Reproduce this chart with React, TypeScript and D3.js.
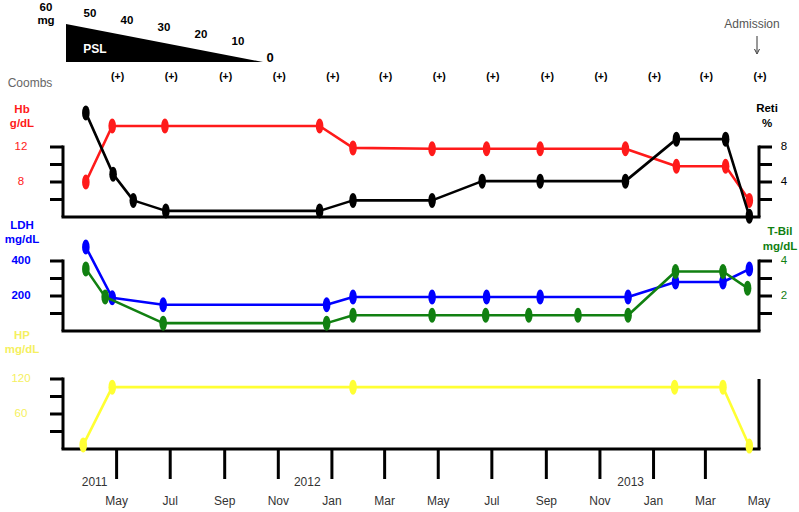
import React from 'react';
import * as d3 from 'd3';

// ---- data ----
const monthLabels = ['May', 'Jul', 'Sep', 'Nov', 'Jan', 'Mar', 'May', 'Jul', 'Sep', 'Nov', 'Jan', 'Mar', 'May'];
const monthDates = ['2011-05-01', '2011-07-01', '2011-09-01', '2011-11-01', '2012-01-01', '2012-03-01', '2012-05-01', '2012-07-01', '2012-09-01', '2012-11-01', '2013-01-01', '2013-03-01', '2013-05-01'];
const yearLabels = ['2011', '2012', '2013'];
const yearDates = ['2011-04-06', '2011-12-04', '2012-12-06'];

const coombsLabel = '(+)';

const hbDates = ['2011-03-27', '2011-04-26', '2011-06-25', '2011-12-18', '2012-01-25', '2012-04-24', '2012-06-25', '2012-08-25', '2012-11-30', '2013-01-27', '2013-03-24', '2013-04-20'];
const hbValues = [8.0, 14.4, 14.4, 14.4, 11.9, 11.8, 11.8, 11.8, 11.8, 9.8, 9.8, 5.9];

const retiDates = ['2011-03-27', '2011-04-27', '2011-05-20', '2011-06-26', '2011-12-18', '2012-01-25', '2012-04-24', '2012-06-20', '2012-08-25', '2012-11-30', '2013-01-27', '2013-03-24', '2013-04-20'];
const retiValues = [11.9, 4.9, 1.9, 0.7, 0.7, 1.9, 1.9, 4.1, 4.1, 4.1, 8.9, 8.9, 0.1];

const ldhDates = ['2011-03-27', '2011-04-26', '2011-06-23', '2011-12-26', '2012-01-25', '2012-04-24', '2012-06-25', '2012-08-25', '2012-12-03', '2013-01-26', '2013-03-21', '2013-04-20'];
const ldhValues = [480, 190, 150, 150, 194, 194, 194, 194, 194, 280, 280, 354];

const tbilDates = ['2011-03-27', '2011-04-18', '2011-06-23', '2011-12-26', '2012-01-25', '2012-04-24', '2012-06-24', '2012-08-12', '2012-10-07', '2012-12-03', '2013-01-26', '2013-03-21', '2013-04-18'];
const tbilValues = [3.55, 1.95, 0.45, 0.45, 0.9, 0.9, 0.9, 0.9, 0.9, 0.9, 3.4, 3.4, 2.45];

const hpDates = ['2011-03-24', '2011-04-26', '2012-01-25', '2013-01-25', '2013-03-21', '2013-04-20'];
const hpValues = [7, 106, 106, 106, 106, 5];

const hbTicks = [12, 10, 8, 6];
const hbTickLabels = [12, 8];
const retiTicks = [8, 6, 4, 2];
const retiTickLabels = [8, 4];
const ldhTicks = [400, 300, 200, 100];
const ldhTickLabels = [400, 200];
const tbilTicks = [4, 3, 2, 1];
const tbilTickLabels = [4, 2];
const hpTicks = [120, 90, 60, 30];
const hpTickLabels = [120, 60];

const pslDoses = [50, 40, 30, 20, 10];

// ---- layout ----
const W = 799, H = 512;
const X0 = 63, X1 = 759;
const parse = d3.timeParse('%Y-%m-%d');
const x = d3.scaleTime().domain([parse('2011-03-01')!, parse('2013-05-01')!]).range([X0, X1]);

const hbY = d3.scaleLinear().domain([4, 12]).range([217, 147]);
const retiY = d3.scaleLinear().domain([0, 8]).range([217, 147]);
const ldhY = d3.scaleLinear().domain([0, 400]).range([331, 261]);
const tbilY = d3.scaleLinear().domain([0, 4]).range([331, 261]);
const hpY = d3.scaleLinear().domain([0, 120]).range([449, 379]);

const RED = '#ff1a1a';
const BLUE = '#0000ff';
const GREEN = '#118011';
const YELLOW = '#ffff33';
const YELLOW_TXT = '#f5f060';
const FONT = 'Liberation Sans, Arial, sans-serif';

function Series({ dates, values, y, color }: { dates: string[]; values: number[]; y: d3.ScaleLinear<number, number>; color: string }) {
  const pts = dates.map((d, i) => [x(parse(d)!), y(values[i])] as [number, number]);
  const line = d3.line();
  return (
    <g>
      <path d={line(pts)!} fill="none" stroke={color} strokeWidth={2.6} strokeLinejoin="round" />
      {pts.map((p, i) => (
        <ellipse key={i} cx={p[0]} cy={p[1]} rx={3.8} ry={7.5} fill={color} />
      ))}
    </g>
  );
}

function LeftAxis({ y, ticks, labels, color, base, bold }: { y: d3.ScaleLinear<number, number>; ticks: number[]; labels: number[]; color: string; base: number; bold?: boolean }) {
  const top = y(ticks[0]);
  return (
    <g>
      <line x1={X0} x2={X0} y1={top - 1.5} y2={base} stroke="#000" strokeWidth={3} />
      {ticks.map((t) => (
        <line key={t} x1={X0 - 13} x2={X0} y1={y(t)} y2={y(t)} stroke="#000" strokeWidth={3} />
      ))}
      {labels.map((t) => (
        <text key={t} x={21} y={y(t)} fill={color} fontSize={11.5} fontWeight={bold ? 'bold' : 'normal'} fontFamily={FONT} textAnchor="middle" dominantBaseline="middle">{t}</text>
      ))}
    </g>
  );
}

function RightAxis({ y, ticks, labels, color, base }: { y: d3.ScaleLinear<number, number>; ticks: number[]; labels: number[]; color: string; base: number }) {
  const top = y(ticks[0]);
  return (
    <g>
      <line x1={X1} x2={X1} y1={top - 1.5} y2={base} stroke="#000" strokeWidth={3} />
      {ticks.map((t) => (
        <line key={t} x1={X1} x2={X1 + 13} y1={y(t)} y2={y(t)} stroke="#000" strokeWidth={3} />
      ))}
      {labels.map((t) => (
        <text key={t} x={784} y={y(t)} fill={color} fontSize={11.5} fontFamily={FONT} textAnchor="middle" dominantBaseline="middle">{t}</text>
      ))}
    </g>
  );
}

export default function App() {
  const pslX = d3.scaleLinear().domain([60, 0]).range([66, 263]);
  const pslTopY = 24, pslBaseY = 62;
  const pslH = d3.scaleLinear().domain([0, 60]).range([pslBaseY, pslTopY]);
  const pslLabelX = d3.scaleLinear().domain([50, 10]).range([90, 238]);
  const pslLabelY = d3.scaleLinear().domain([50, 10]).range([14, 42]);
  const tri = `M${pslX(60)},${pslH(60)} L${pslX(0)},${pslH(0)} L${pslX(60)},${pslBaseY} Z`;

  return (
    <svg width={W} height={H} style={{ position: 'absolute', left: 0, top: 0, background: '#fff' }} fontFamily={FONT}>
      {/* PSL wedge */}
      <path d={tri} fill="#000" />
      <text x={95} y={50} fill="#fff" fontSize={12} fontWeight="bold" textAnchor="middle" dominantBaseline="middle">PSL</text>
      <text x={46} y={8} fontSize={11.5} fontWeight="bold" textAnchor="middle" dominantBaseline="middle">60</text>
      <text x={46} y={21} fontSize={11.5} fontWeight="bold" textAnchor="middle" dominantBaseline="middle">mg</text>
      {pslDoses.map((d) => (
        <text key={d} x={pslLabelX(d)} y={pslLabelY(d)} fontSize={11.5} fontWeight="bold" textAnchor="middle" dominantBaseline="middle">{d}</text>
      ))}
      <text x={270} y={59} fontSize={13} fontWeight="bold" textAnchor="middle" dominantBaseline="middle">0</text>

      {/* Admission */}
      <text x={752} y={25} fontSize={12} fill="#555" textAnchor="middle" dominantBaseline="middle">Admission</text>
      <line x1={757} x2={757} y1={36} y2={52} stroke="#333" strokeWidth={1} />
      <path d="M754.5,49 L757,54 L759.5,49" fill="none" stroke="#333" strokeWidth={1} />

      {/* Coombs */}
      <text x={30} y={84} fontSize={12} fill="#666" textAnchor="middle" dominantBaseline="middle">Coombs</text>
      {monthDates.map((d, i) => (
        <text key={i} x={x(parse(d)!) + 1} y={77} fontSize={10.5} fontWeight="bold" textAnchor="middle" dominantBaseline="middle">{coombsLabel}</text>
      ))}

      {/* Panel 1: Hb / Reti */}
      <text x={22} y={110} fill={RED} fontSize={11.5} fontWeight="bold" textAnchor="middle" dominantBaseline="middle">Hb</text>
      <text x={22} y={124} fill={RED} fontSize={11.5} fontWeight="bold" textAnchor="middle" dominantBaseline="middle">g/dL</text>
      <text x={767} y={109} fontSize={11.5} fontWeight="bold" textAnchor="middle" dominantBaseline="middle">Reti</text>
      <text x={767} y={124} fontSize={11.5} fontWeight="bold" textAnchor="middle" dominantBaseline="middle">%</text>
      <LeftAxis y={hbY} ticks={hbTicks} labels={hbTickLabels} color={RED} base={217} />
      <RightAxis y={retiY} ticks={retiTicks} labels={retiTickLabels} color="#000" base={217} />
      <line x1={X0 - 1.5} x2={X1 + 1.5} y1={217} y2={217} stroke="#000" strokeWidth={3} />
      <Series dates={hbDates} values={hbValues} y={hbY} color={RED} />
      <Series dates={retiDates} values={retiValues} y={retiY} color="#000" />

      {/* Panel 2: LDH / T-Bil */}
      <text x={22} y={226} fill={BLUE} fontSize={11.5} fontWeight="bold" textAnchor="middle" dominantBaseline="middle">LDH</text>
      <text x={22} y={240} fill={BLUE} fontSize={11.5} fontWeight="bold" textAnchor="middle" dominantBaseline="middle">mg/dL</text>
      <text x={780} y={232} fill={GREEN} fontSize={11.5} fontWeight="bold" textAnchor="middle" dominantBaseline="middle">T-Bil</text>
      <text x={780} y={247} fill={GREEN} fontSize={11.5} fontWeight="bold" textAnchor="middle" dominantBaseline="middle">mg/dL</text>
      <LeftAxis y={ldhY} ticks={ldhTicks} labels={ldhTickLabels} color={BLUE} base={331} bold />
      <RightAxis y={tbilY} ticks={tbilTicks} labels={tbilTickLabels} color={GREEN} base={331} />
      <line x1={X0 - 1.5} x2={X1 + 1.5} y1={331} y2={331} stroke="#000" strokeWidth={3} />
      <Series dates={ldhDates} values={ldhValues} y={ldhY} color={BLUE} />
      <Series dates={tbilDates} values={tbilValues} y={tbilY} color={GREEN} />

      {/* Panel 3: HP */}
      <text x={22} y={336} fill={YELLOW_TXT} fontSize={11.5} fontWeight="bold" textAnchor="middle" dominantBaseline="middle">HP</text>
      <text x={22} y={350} fill={YELLOW_TXT} fontSize={11.5} fontWeight="bold" textAnchor="middle" dominantBaseline="middle">mg/dL</text>
      <LeftAxis y={hpY} ticks={hpTicks} labels={hpTickLabels} color={YELLOW_TXT} base={449} />
      <line x1={X1} x2={X1} y1={hpY(120)} y2={449} stroke="#000" strokeWidth={3} />
      <line x1={X0 - 1.5} x2={X1 + 1.5} y1={449} y2={449} stroke="#000" strokeWidth={3} />
      {monthDates.slice(0, 12).map((d, i) => (
        <line key={i} x1={x(parse(d)!)} x2={x(parse(d)!)} y1={449} y2={479} stroke="#000" strokeWidth={3} />
      ))}
      <Series dates={hpDates} values={hpValues} y={hpY} color={YELLOW} />

      {/* time axis labels */}
      {monthDates.map((d, i) => (
        <text key={i} x={x(parse(d)!)} y={502} fontSize={12} fill="#333" textAnchor="middle" dominantBaseline="middle">{monthLabels[i]}</text>
      ))}
      {yearDates.map((d, i) => (
        <text key={i} x={x(parse(d)!)} y={483} fontSize={12} fill="#333" textAnchor="middle" dominantBaseline="middle">{yearLabels[i]}</text>
      ))}
    </svg>
  );
}
